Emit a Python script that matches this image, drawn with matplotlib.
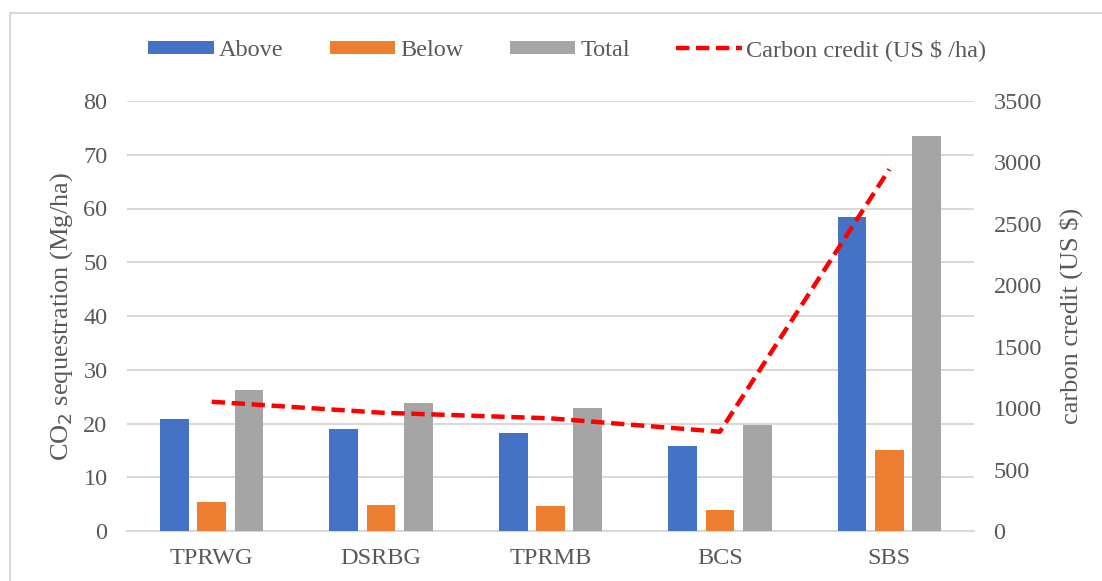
import numpy as np
import matplotlib.pyplot as plt
from matplotlib.patches import Rectangle

categories = ["TPRWG", "DSRBG", "TPRMB", "BCS", "SBS"]
above = [20.8, 18.9, 18.2, 15.8, 58.4]
below = [5.4, 4.9, 4.7, 4.0, 15.0]
total = [26.2, 23.8, 22.8, 19.8, 73.5]
carbon_credit = [1052, 963, 917, 808, 2944]

plt.rcParams["font.family"] = ["Liberation Serif", "DejaVu Serif"]
TXT = "#595959"
GRID = "#D9D9D9"

fig = plt.figure(figsize=(11.02, 5.81), dpi=100)
ax = fig.add_axes([127 / 1102, (581 - 531) / 581, (974 - 127) / 1102, 430 / 581])
ax2 = ax.twinx()

x = np.arange(len(categories))
w = 0.17
off = 0.22
ax.bar(x - off, above, w, color="#4472C4", label="Above", zorder=3)
ax.bar(x, below, w, color="#ED7D31", label="Below", zorder=3)
ax.bar(x + off, total, w, color="#A5A5A5", label="Total", zorder=3)
ax2.plot(x, carbon_credit, color="#FF0000", lw=3.2, ls=(0, (3, 1.5)),
         label="Carbon credit (US $ /ha)", zorder=4)

ax.set_xlim(-0.5, len(categories) - 0.5)
ax.set_ylim(0, 80)
ax.set_yticks(range(0, 81, 10))
ax2.set_ylim(0, 3500)
ax2.set_yticks(range(0, 3501, 500))
ax.set_xticks(x)
ax.set_xticklabels(categories)

ax.yaxis.grid(True, color=GRID, lw=1.5, zorder=0)
ax.set_axisbelow(True)
for a in (ax, ax2):
    for s in a.spines.values():
        s.set_visible(False)
    a.tick_params(length=0, labelsize=17.5, colors=TXT)
ax.spines["bottom"].set_visible(True)
ax.spines["bottom"].set_color(GRID)
ax.spines["bottom"].set_linewidth(1.5)
ax.tick_params(axis="y", pad=14)
ax.tick_params(axis="x", pad=12)
ax2.tick_params(axis="y", pad=14)

ax.set_ylabel("CO$_2$ sequestration (Mg/ha)", fontsize=19, color=TXT, labelpad=6)
ax2.set_ylabel("carbon credit (US $)", fontsize=19, color=TXT, labelpad=12)

# legend
h1, l1 = ax.get_legend_handles_labels()
h2, l2 = ax2.get_legend_handles_labels()
fig.legend(h1 + h2, l1 + l2, loc="center", bbox_to_anchor=(0.515, 1 - 50 / 581),
           ncol=4, frameon=False, fontsize=17.5, labelcolor=TXT,
           handlelength=2.7, handleheight=0.45, handletextpad=0.2, columnspacing=1.9)

# chart area border
fig.patches.append(Rectangle((10 / 1102, -0.05), 1.2, 1 - 13 / 581 + 0.05,
                             transform=fig.transFigure, fill=False,
                             edgecolor=GRID, lw=1.5))

fig.savefig("out.png", dpi=100)
